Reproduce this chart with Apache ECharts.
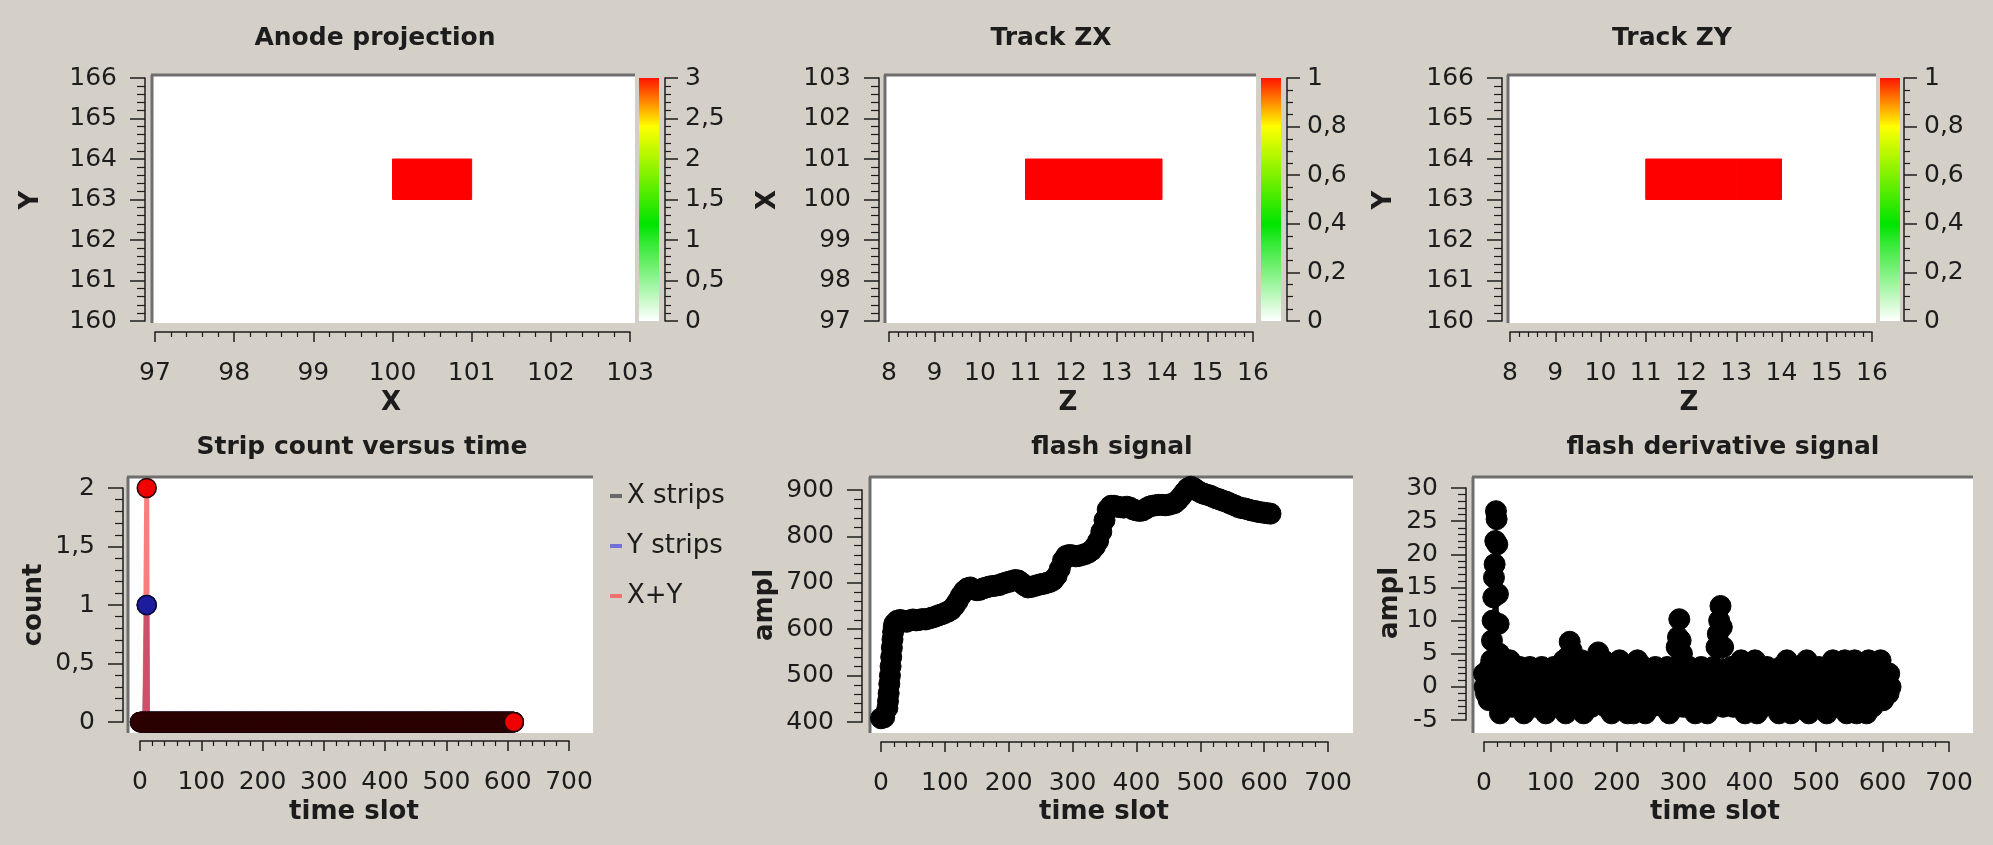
<!DOCTYPE html>
<html><head><meta charset="utf-8">
<script src="https://cdn.jsdelivr.net/npm/echarts@6.0.0/dist/echarts.min.js"></script>
<style>html,body{margin:0;padding:0;background:#d4d0c8;}#c{width:1993px;height:845px;}</style>
</head><body><div id="c"></div><script>
// ---------------- DATA ----------------
// heat-map cells: [x, y, value]; each cell spans x..x+1, y..y+1
const anodeCells = [[100, 163, 3]];
const trackZXCells = [[11, 100, 1], [12, 100, 1], [13, 100, 1]];
const trackZYCells = [[11, 163, 1], [12, 163, 1], [13, 163, 1]];
const anodeScale = [0, 3, 0.5];
const trackScale = [0, 1, 0.2];
const colorbarStops = [[0, '#ffffff'], [0.4, '#00e400'], [0.8, '#ffff00'], [1, '#ff1500']];
const heatColors = ['#ffffff', '#80f080', '#00e400', '#a0f000', '#ffff00', '#ff0000'];

// strip counts: all time slots are 0 except the listed [slot, count]
const timeSlotCount = 611;
const xStripsNonZero = [[11, 1]];
const yStripsNonZero = [[11, 1]];
const xyStripsNonZero = [[11, 2]];

// flash signal, one value every 5 time slots starting at slot 0, plus the fast initial rise [slot, value]
const flashStep = 5;
const flashSignal = [
  408, 410, 430, 520, 605, 618, 620, 618, 616, 619,
  621, 619, 620, 622, 621, 623, 625, 627, 630, 632,
  635, 638, 642, 650, 660, 672, 682, 688, 690, 686,
  684, 685, 688, 690, 692, 693, 694, 695, 698, 700,
  702, 704, 706, 705, 700, 694, 690, 691, 693, 695,
  697, 698, 700, 702, 706, 715, 730, 748, 758, 760,
  759, 757, 758, 760, 762, 765, 770, 778, 790, 810,
  835, 858, 866, 866, 864, 863, 862, 864, 862, 858,
  856, 855, 856, 860, 864, 866, 867, 868, 868, 867,
  868, 870, 872, 878, 886, 895, 903, 907, 904, 899,
  895, 892, 890, 888, 885, 882, 880, 877, 875, 872,
  869, 866, 863, 861, 860, 858, 856, 855, 853, 852,
  851, 850, 849
];
const flashRise = [[11, 445], [12, 462], [13, 482], [14, 500], [16, 540], [17, 560], [18, 578], [19, 594], [21, 612]];

// flash derivative: two interleaved baseline bands (every 3 slots from slot 0 and from slot 1), plus peaks [slot, value]
const derivStep = 3;
const derivBandA = [
  2, -1, 1, 3, -1, 0, 2, -2, -4, 1,
  4, -2, 1, 4, -3, 2, 0, -3, 3, -1,
  -4, 2, 0, 3, -2, 1, -3, 2, -1, 3,
  -3, -4, 1, 2, -2, 3, 0, -3, 2, -1,
  4, -4, 1, 3, -2, 0, 2, -3, 1, 4,
  -4, 2, -1, 3, -3, 0, 2, -2, 1, 3,
  4, -3, 0, 2, -4, 1, 3, -2, 4, 0,
  -3, 2, -4, 1, 3, -4, 0, 4, -2, 1,
  3, -4, 0, 2, -3, 1, 3, -2, 0, 2,
  -3, 1, 3, -4, 0, 2, -2, 3, -1, 1,
  -3, 2, 0, 3, -2, 1, -4, 2, 0, 3,
  -2, 1, -4, 2, 0, 3, -2, 1, -1, 2,
  -3, 0, 2, -2, 3, -3, 1, 2, -2, 4,
  0, -4, 2, 1, -3, 3, 4, -4, 0, 2,
  -3, 1, 3, -2, 0, 2, -3, 1, -4, 3,
  0, -2, 4, 1, -4, 2, 0, 3, -3, 1,
  -2, 3, 4, -4, 0, 2, -3, 1, 3, -2,
  0, 2, -4, 1, 3, 4, -3, 0, 2, -2,
  1, 4, -4, 3, -1, 0, 4, -4, 2, -2,
  3, 1, -4, 4, 0, -3, 2, -1, 3, 4,
  -2, 1, 2, -1, 0
];
const derivBandB = [
  0, 1, -2, 1, 2, -1, 1, 0, -2, 2,
  1, 0, -2, 2, 0, -1, 1, -2, 0, 2,
  -1, 0, 2, -2, 1, 0, -1, 2, 0, -2,
  1, -1, 2, 0, -2, 1, 2, -1, 0, 1,
  -2, 2, 0, -1, 1, 2, -2, 0, 1, -1,
  0, 2, -2, 1, 0, -1, 2, 0, -2, 1,
  -1, 1, 2, -2, 0, 1, -1, 2, 0, -2,
  1, 0, -2, 2, -1, 1, 0, -2, 2, 0,
  -1, 2, -2, 0, 1, -1, 2, 0, -2, 1,
  0, -2, 1, 2, -1, 0, 1, -2, 2, 0,
  1, -1, 2, 0, -2, 1, 0, -1, 2, -2,
  0, 2, -1, 1, -2, 0, 2, -1, 1, 0,
  -2, 1, 0, 2, -1, 0, 2, -2, 1, 0,
  2, -1, 0, 1, -2, 2, 0, -1, 1, -2,
  0, 2, -1, 1, 0, -2, 2, 0, -1, 1,
  2, -2, 0, 1, -1, 2, 0, -2, 1, 0,
  -1, 2, 0, -2, 1, 0, 2, -1, 0, 1,
  -2, 1, 2, 0, -1, 1, -2, 2, 0, -1,
  1, 0, -2, 2, 0, -1, 1, -2, 2, 0,
  -1, 2, 0, -2, 1, 0, -1, 2, 0, 1,
  -2, 1, 0, 2
];
const derivPeaks = [
  [11, 4], [12, 7], [13, 10], [14, 13.5], [15, 16.5], [16, 18.5], [17, 22], [18, 26.5],
  [19, 25.3], [20, 21.5], [21, 14], [22, 9.5], [23, 5],
  [126, 4.5], [129, 6.8], [132, 5.5], [172, 5.2],
  [290, 6], [292, 7.5], [294, 10.2], [296, 7], [298, 5],
  [350, 6], [352, 8], [354, 10], [356, 12.2], [358, 9], [360, 6]
];

// axis ranges [min, max, interval]
const anodeX = [97, 103, 1], anodeY = [160, 166, 1];
const zxX = [8, 16, 1], zxY = [97, 103, 1];
const zyX = [8, 16, 1], zyY = [160, 166, 1];
const timeAxis = [0, 700, 100];
const stripY = [0, 2, 0.5], flashY = [400, 900, 100], derivY = [-5, 30, 5];

// ---------------- LAYOUT ----------------
const L = {
  anode: {canvas: [152, 75, 483, 248], grid: [155, 78, 475, 243], yOff: 10, xOff: 11, cb: [639, 78, 20, 243], cbOff: 6,
          title: [375, 38, 'Anode projection'], xName: [391, 403, 'X'], yName: [31, 200, 'Y']},
  zx: {canvas: [885, 75, 371, 248], grid: [889, 78, 364, 243], yOff: 10, xOff: 11, cb: [1261, 78, 20, 243], cbOff: 6,
       title: [1051, 38, 'Track ZX'], xName: [1068, 403, 'Z'], yName: [768, 200, 'X']},
  zy: {canvas: [1508, 75, 368, 248], grid: [1510, 78, 362, 243], yOff: 8, xOff: 11, cb: [1880, 78, 20, 243], cbOff: 4,
       title: [1672, 38, 'Track ZY'], xName: [1689, 403, 'Z'], yName: [1384, 200, 'Y']},
  strip: {canvas: [128, 477, 465, 256], grid: [140, 488, 429, 234], yOff: 17, xOff: 19,
          title: [362, 447, 'Strip count versus time'], xName: [354, 812, 'time slot'], yName: [34, 605, 'count']},
  flash: {canvas: [870, 477, 483, 256], grid: [881, 490, 447, 232], yOff: 19, xOff: 20,
          title: [1112, 447, 'flash signal'], xName: [1104, 812, 'time slot'], yName: [765, 605, 'ampl']},
  deriv: {canvas: [1473, 477, 500, 256], grid: [1484, 488, 465, 232], yOff: 18, xOff: 22,
          title: [1723, 447, 'flash derivative signal'], xName: [1715, 812, 'time slot'], yName: [1390, 603, 'ampl']}
};
const INK = '#1c1c1c';
const FONT = "'DejaVu Sans', sans-serif";
const LABEL_SIZE = 25;

// ---------------- BUILD ----------------
function fmt(v) { return String(+(+v).toFixed(6)).replace('.', ','); }
function valueAxis(gridIndex, pos, r, o) {
  return {
    type: 'value', gridIndex: gridIndex, position: pos, min: r[0], max: r[1], interval: r[2], offset: o.offset,
    axisLine: {show: true, onZero: false, lineStyle: {color: INK, width: 1.5}},
    axisTick: {show: true, length: o.tick, lineStyle: {color: INK, width: 1.5}},
    minorTick: {show: true, splitNumber: o.minor, length: o.minorLen, lineStyle: {color: INK, width: 1.2}},
    splitLine: {show: false}, minorSplitLine: {show: false},
    axisLabel: {show: true, margin: o.margin, color: INK, fontFamily: FONT, fontSize: LABEL_SIZE, formatter: fmt}
  };
}
const grids = [], xAxes = [], yAxes = [];
function addGrid(g) {
  grids.push({left: g[0], top: g[1], width: g[2], height: g[3], containLabel: false, outerBoundsMode: 'none'});
  return grids.length - 1;
}
function addPanel(p, xr, yr) {
  const gi = addGrid(p.grid);
  xAxes.push(valueAxis(gi, 'bottom', xr, {offset: p.xOff, tick: 10, minor: 5, minorLen: 5, margin: 29}));
  yAxes.push(valueAxis(gi, 'left', yr, {offset: p.yOff, tick: 15, minor: 5, minorLen: 8, margin: 28}));
  return gi;
}
function addColorbar(p, r, minor) {
  const gi = addGrid(p.cb);
  xAxes.push({type: 'value', gridIndex: gi, min: 0, max: 1, show: false});
  yAxes.push(valueAxis(gi, 'right', r, {offset: p.cbOff, tick: 13, minor: minor, minorLen: 6, margin: 20}));
  return gi;
}
function cellSeries(gi, cells) {
  return {
    type: 'custom', xAxisIndex: gi, yAxisIndex: gi, data: cells, clip: false,
    encode: {x: 0, y: 1},
    renderItem: function (params, api) {
      const x = api.value(0), y = api.value(1);
      const a = api.coord([x, y]), b = api.coord([x + 1, y + 1]);
      const c = api.visual('color');
      return {type: 'rect', shape: {x: a[0], y: b[1], width: b[0] - a[0], height: a[1] - b[1]},
              style: {fill: c, stroke: c, lineWidth: 1}};
    }
  };
}
function colorbarSeries(gi, r) {
  return {
    type: 'custom', xAxisIndex: gi, yAxisIndex: gi, data: [[0, r[0], 1, r[1]]], clip: false,
    renderItem: function (params, api) {
      const a = api.coord([api.value(0), api.value(1)]), b = api.coord([api.value(2), api.value(3)]);
      return {type: 'rect', shape: {x: a[0], y: b[1], width: b[0] - a[0], height: a[1] - b[1]},
              style: {fill: {type: 'linear', x: 0, y: 1, x2: 0, y2: 0,
                             colorStops: colorbarStops.map(s => ({offset: s[0], color: s[1]}))}}};
    }
  };
}
function expand(nonZero) {
  const m = new Map(nonZero), out = [];
  for (let t = 0; t < timeSlotCount; t++) out.push([t, m.has(t) ? m.get(t) : 0]);
  return out;
}

const gA = addPanel(L.anode, anodeX, anodeY);
const gAc = addColorbar(L.anode, anodeScale, 5);
const gZX = addPanel(L.zx, zxX, zxY);
const gZXc = addColorbar(L.zx, trackScale, 4);
const gZY = addPanel(L.zy, zyX, zyY);
const gZYc = addColorbar(L.zy, trackScale, 4);
const gS = addPanel(L.strip, timeAxis, stripY);
const gF = addPanel(L.flash, timeAxis, flashY);
const gD = addPanel(L.deriv, timeAxis, derivY);

const flashData = flashSignal.map((v, i) => [i * flashStep, v]).concat(flashRise)
  .sort((a, b) => a[0] - b[0]);
const derivData = derivBandA.map((v, i) => [i * derivStep, v])
  .concat(derivBandB.map((v, i) => [1 + i * derivStep, v]))
  .concat(derivPeaks)
  .sort((a, b) => a[0] - b[0]);

function stripSeries(name, nonZero, lineColor, fill, border) {
  return {
    type: 'line', name: name, xAxisIndex: gS, yAxisIndex: gS, data: expand(nonZero),
    symbol: 'circle', symbolSize: 19, showAllSymbol: true, clip: false,
    lineStyle: {color: lineColor, width: 5},
    itemStyle: {color: fill, borderColor: border, borderWidth: 1.5}
  };
}
function signalSeries(gi, data) {
  return {
    type: 'line', xAxisIndex: gi, yAxisIndex: gi, data: data, clip: false,
    symbol: 'circle', symbolSize: 21, showAllSymbol: true,
    lineStyle: {color: '#000', width: 1}, itemStyle: {color: '#000', borderColor: '#000', borderWidth: 1}
  };
}

const series = [
  cellSeries(gA, anodeCells), colorbarSeries(gAc, anodeScale),
  cellSeries(gZX, trackZXCells), colorbarSeries(gZXc, trackScale),
  cellSeries(gZY, trackZYCells), colorbarSeries(gZYc, trackScale),
  stripSeries('X strips', xStripsNonZero, 'rgba(95,95,95,0.65)', '#1a0000', '#000000'),
  stripSeries('Y strips', yStripsNonZero, 'rgba(70,70,210,0.6)', '#1c1c9c', '#0a0a40'),
  stripSeries('X+Y', xyStripsNonZero, 'rgba(250,70,70,0.7)', '#f00000', '#2a0000'),
  signalSeries(gF, flashData),
  signalSeries(gD, derivData)
];

const graphics = [];
Object.keys(L).forEach(k => {
  const p = L[k], c = p.canvas;
  graphics.push({type: 'rect', z: -1, shape: {x: c[0], y: c[1], width: c[2], height: c[3]}, style: {fill: '#ffffff'}});
  graphics.push({type: 'line', z: -1, shape: {x1: c[0] - 1, y1: c[1], x2: c[0] + c[2], y2: c[1]}, style: {stroke: '#6e6e6e', lineWidth: 3}});
  graphics.push({type: 'line', z: -1, shape: {x1: c[0], y1: c[1], x2: c[0], y2: c[1] + c[3]}, style: {stroke: '#6e6e6e', lineWidth: 3}});
  graphics.push({type: 'text', x: p.title[0], y: p.title[1], style: {text: p.title[2], x: 0, y: 0, fill: INK,
    font: 'bold 25px ' + FONT, textAlign: 'center', textVerticalAlign: 'middle', align: 'center', verticalAlign: 'middle'}});
  graphics.push({type: 'text', x: p.xName[0], y: p.xName[1], style: {text: p.xName[2], x: 0, y: 0, fill: INK,
    font: 'bold 26px ' + FONT, textAlign: 'center', textVerticalAlign: 'middle', align: 'center', verticalAlign: 'middle'}});
  graphics.push({type: 'text', x: p.yName[0], y: p.yName[1], rotation: Math.PI / 2, style: {text: p.yName[2], x: 0, y: 0, fill: INK,
    font: 'bold 26px ' + FONT, textAlign: 'center', textVerticalAlign: 'middle', align: 'center', verticalAlign: 'middle'}});
});

const chart = echarts.init(document.getElementById('c'), null, {renderer: 'canvas', width: 1993, height: 845});
chart.setOption({
  backgroundColor: '#d4d0c8',
  animation: false,
  grid: grids, xAxis: xAxes, yAxis: yAxes,
  visualMap: [
    {show: false, type: 'continuous', seriesIndex: 0, dimension: 2, min: anodeScale[0], max: anodeScale[1], inRange: {color: heatColors}},
    {show: false, type: 'continuous', seriesIndex: 2, dimension: 2, min: trackScale[0], max: trackScale[1], inRange: {color: heatColors}},
    {show: false, type: 'continuous', seriesIndex: 4, dimension: 2, min: trackScale[0], max: trackScale[1], inRange: {color: heatColors}}
  ],
  legend: {
    show: true, orient: 'vertical', left: 610, top: 481, itemGap: 20, itemWidth: 12, itemHeight: 4, icon: 'rect',
    selectedMode: false, padding: 0,
    textStyle: {fontFamily: FONT, fontSize: 26, color: INK, lineHeight: 30},
    data: [
      {name: 'X strips', itemStyle: {color: '#6a6a6a', borderWidth: 0}},
      {name: 'Y strips', itemStyle: {color: '#7070d8', borderWidth: 0}},
      {name: 'X+Y', itemStyle: {color: '#f07070', borderWidth: 0}}
    ]
  },
  graphic: {elements: graphics},
  series: series
});
</script></body></html>
